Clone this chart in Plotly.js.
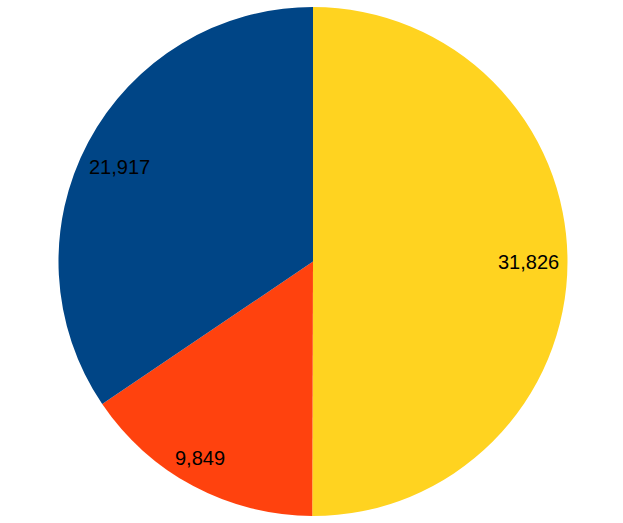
<!DOCTYPE html>
<html>
<head>
<meta charset="utf-8">
<script src="https://cdn.plot.ly/plotly-3.0.1.min.js"></script>
<style>html,body{margin:0;padding:0;background:#fff;}#chart{width:623px;height:523px;}</style>
</head>
<body>
<div id="chart"></div>
<script>
const categories = ["A", "B", "C"];
const values = [31826, 9849, 21917];
const colors = ["#FFD320", "#FF420E", "#004586"];

const W = 623, H = 523;
const margin = {l: 3, r: 0, t: 7, b: 7};
const plotW = W - margin.l - margin.r, plotH = H - margin.t - margin.b;
const R = Math.min(plotW, plotH) / 2;
const fontSize = 20;
const fontFamily = "Liberation Sans, Arial, sans-serif";

const ctx = document.createElement("canvas").getContext("2d");
ctx.font = fontSize + "px " + fontFamily;

const total = values.reduce((a, b) => a + b, 0);
const fmt = v => v.toLocaleString("en-US");
const pull = 2 * Math.PI / 180; // wide labels sit slightly nearer the horizontal
let cum = 0;
const annotations = values.map(v => {
  let mid = (cum + v / 2) / total * 2 * Math.PI; // clockwise from top
  cum += v;
  const target = Math.sin(mid) >= 0 ? Math.PI / 2 : 3 * Math.PI / 2;
  const diff = target - mid;
  mid += Math.sign(diff) * Math.min(Math.abs(diff), pull);
  const ux = Math.sin(mid), uy = -Math.cos(mid); // screen coords
  const txt = fmt(v);
  const w = ctx.measureText(txt).width, h = fontSize * 0.8;
  const d = R * 0.967 - (Math.abs(ux) * w / 2 + Math.abs(uy) * h / 2);
  return {
    x: 0.5 + ux * d / plotW, y: 0.5 - uy * d / plotH, xref: "paper", yref: "paper",
    text: txt, showarrow: false, xanchor: "center", yanchor: "middle",
    font: {family: fontFamily, size: fontSize, color: "#000"}
  };
});

Plotly.newPlot("chart", [{
  type: "pie",
  labels: categories,
  values: values,
  sort: false,
  direction: "clockwise",
  rotation: 0,
  marker: {colors: colors, line: {width: 0}},
  textinfo: "none",
  hoverinfo: "none"
}], {
  width: W, height: H,
  margin: margin,
  showlegend: false,
  annotations: annotations,
  paper_bgcolor: "#fff"
}, {displayModeBar: false, staticPlot: true});
</script>
</body>
</html>
